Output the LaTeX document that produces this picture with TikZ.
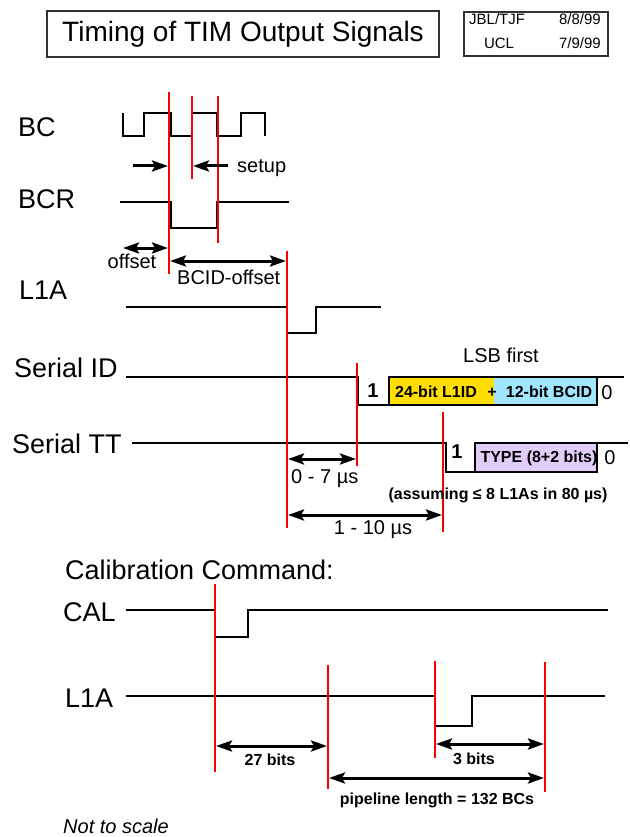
\documentclass[tikz,border=0pt]{standalone}
\usepackage{fontspec}
\setmainfont{Liberation Sans}
\usepackage{xcolor}
\usepackage{tikz}
\usetikzlibrary{arrows.meta,positioning}

\definecolor{idyellow}{RGB}{255,222,0}
\definecolor{idcyan}{RGB}{160,230,255}
\definecolor{ttlilac}{RGB}{226,204,250}
\newcommand{\fsz}[1]{\fontsize{#1}{#1}\selectfont}

\begin{document}
\begin{tikzpicture}[x=1pt,y=-1pt,
  sig/.style={line width=2pt,line join=miter},
  marker/.style={red,line width=2pt},
  dim/.style={line width=3pt,{Stealth[length=16pt,width=11pt,inset=3pt]}-{Stealth[length=16pt,width=11pt,inset=3pt]}},
  onearrow/.style={line width=3pt,-{Stealth[length=16pt,width=11pt,inset=3pt]}},
  lbl/.style={inner sep=0pt,anchor=base west,font=\fsz{27}},
  note/.style={inner sep=0pt,font=\fsz{20}},
  bnote/.style={inner sep=0pt,font=\bfseries\fsz{16}},
  frame/.style={draw=black!80,line width=1.3pt,inner sep=0pt}]
\useasboundingbox (0,0) rectangle (629,837);

% header
\node[frame,minimum width=392pt,minimum height=46pt,font=\fsz{28}] (title) at (243,34) {Timing of TIM Output Signals};
\node[frame,minimum width=144pt,minimum height=44pt] (stamp) at (536,34) {};
\node[inner sep=0pt,anchor=base west,font=\fsz{15}] (who) at (469,25) {JBL/TJF};
\node[inner sep=0pt,anchor=base east,font=\fsz{15}] (date1) at (601,25) {8/8/99};
\node[inner sep=0pt,anchor=base,font=\fsz{15}] (ucl) at (499,49) {UCL};
\node[inner sep=0pt,anchor=base east,font=\fsz{15}] (date2) at (601,49) {7/9/99};

% signal names
\node[lbl] (bc) at (18,137) {BC};
\node[lbl] (bcr) at (18,208) {BCR};
\node[lbl] (l1a) at (19,299) {L1A};
\node[lbl] (sid) at (14,377) {Serial ID};
\node[lbl] (stt) at (12,453) {Serial TT};
\node[lbl] (calhead) at (65,579) {Calibration Command:};
\node[lbl] (cal) at (63,621) {CAL};
\node[lbl] (l1b) at (65,707) {L1A};

% waveforms
\draw[sig] (123,113) -- (123,136) -- (144,136) -- (144,113) -- (171,113) -- (171,136) -- (192,136) -- (192,113)
  -- (217,113) -- (217,136) -- (241,136) -- (241,113) -- (265,113) -- (265,136);
\draw[sig] (120,202) -- (171,202) -- (171,228) -- (217,228) -- (217,202) -- (289,202);
\draw[sig] (126,307) -- (287,307) -- (287,333) -- (316,333) -- (316,307) -- (381,307);
\fill[idyellow] (389,377) rectangle (494,405);
\fill[idcyan] (494,377) rectangle (597,405);
\draw[sig] (126,377) -- (358,377) -- (358,405) -- (389,405) -- (389,377) -- (624,377);
\draw[sig] (389,405) -- (597,405) -- (597,377);
\fill[ttlilac] (475,443) rectangle (597,472);
\draw[sig] (132,443) -- (446,443) -- (446,472) -- (475,472) -- (475,443) -- (628,443);
\draw[sig] (475,472) -- (597,472) -- (597,443);
\draw[sig] (126,610) -- (215,610) -- (215,637) -- (248,637) -- (248,610) -- (608,610);
\draw[sig] (126,696) -- (435,696) -- (435,726) -- (472,726) -- (472,696) -- (605,696);

% frame contents
\node[note,anchor=base,font=\bfseries\fsz{20}] (idstart) at (373,397) {1};
\node[bnote,anchor=base] (l1id) at (436,397) {24-bit L1ID};
\node[bnote,anchor=base] (plus) at (492,397) {+};
\node[bnote,anchor=base] (bcid) at (549,397) {12-bit BCID};
\node[note,anchor=base] (idstop) at (607,399) {0};
\node[note,anchor=base,font=\bfseries\fsz{20}] (ttstart) at (457,458) {1};
\node[bnote,anchor=base] (type) at (539,462) {TYPE (8+2 bits)};
\node[note,anchor=base] (ttstop) at (610,464) {0};
\node[note,anchor=base west] (lsb) at (463,362) {LSB first};

% red time markers
\draw[marker] (169,92) -- (169,274);
\draw[marker] (192,96) -- (192,179);
\draw[marker] (218,96) -- (218,243);
\draw[marker] (287,251) -- (287,528);
\draw[marker] (357,363) -- (357,466);
\draw[marker] (443,412) -- (443,532);
\draw[marker] (215,584) -- (215,772);
\draw[marker] (328,665) -- (328,789);
\draw[marker] (435,661) -- (435,758);
\draw[marker] (545,662) -- (545,792);

% intervals
\draw[onearrow] (133,166) -- (168,166);
\draw[onearrow] (228,166) -- (193,166);
\node[note,anchor=base west] (setup) at (237,172) {setup};
\draw[dim] (123,248) -- (168,248);
\node[note,anchor=base] (offset) at (132,268) {offset};
\draw[dim] (170,261) -- (286,261);
\node[note,anchor=base west] (bcidoff) at (177,284) {BCID-offset};
\draw[dim] (288,459) -- (356,459);
\node[note,anchor=base west] (short) at (291,483) {0 - 7 µs};
\draw[dim] (288,515) -- (442,515);
\node[note,anchor=base] (long) at (373,534) {1 - 10 µs};
\node[bnote,anchor=base] (assume) at (498,499) {(assuming ≤ 8 L1As in 80 µs)};
\draw[dim] (216,746) -- (327,746);
\node[bnote,anchor=base] (bits27) at (270,765) {27 bits};
\draw[dim] (436,744) -- (544,744);
\node[bnote,anchor=base] (bits3) at (474,764) {3 bits};
\draw[dim] (329,778) -- (544,778);
\node[bnote,anchor=base] (pipe) at (437,804) {pipeline length = 132 BCs};
\node[note,anchor=base west,font=\itshape\fsz{20}] (scale) at (63,833) {Not to scale};
\end{tikzpicture}
\end{document}
